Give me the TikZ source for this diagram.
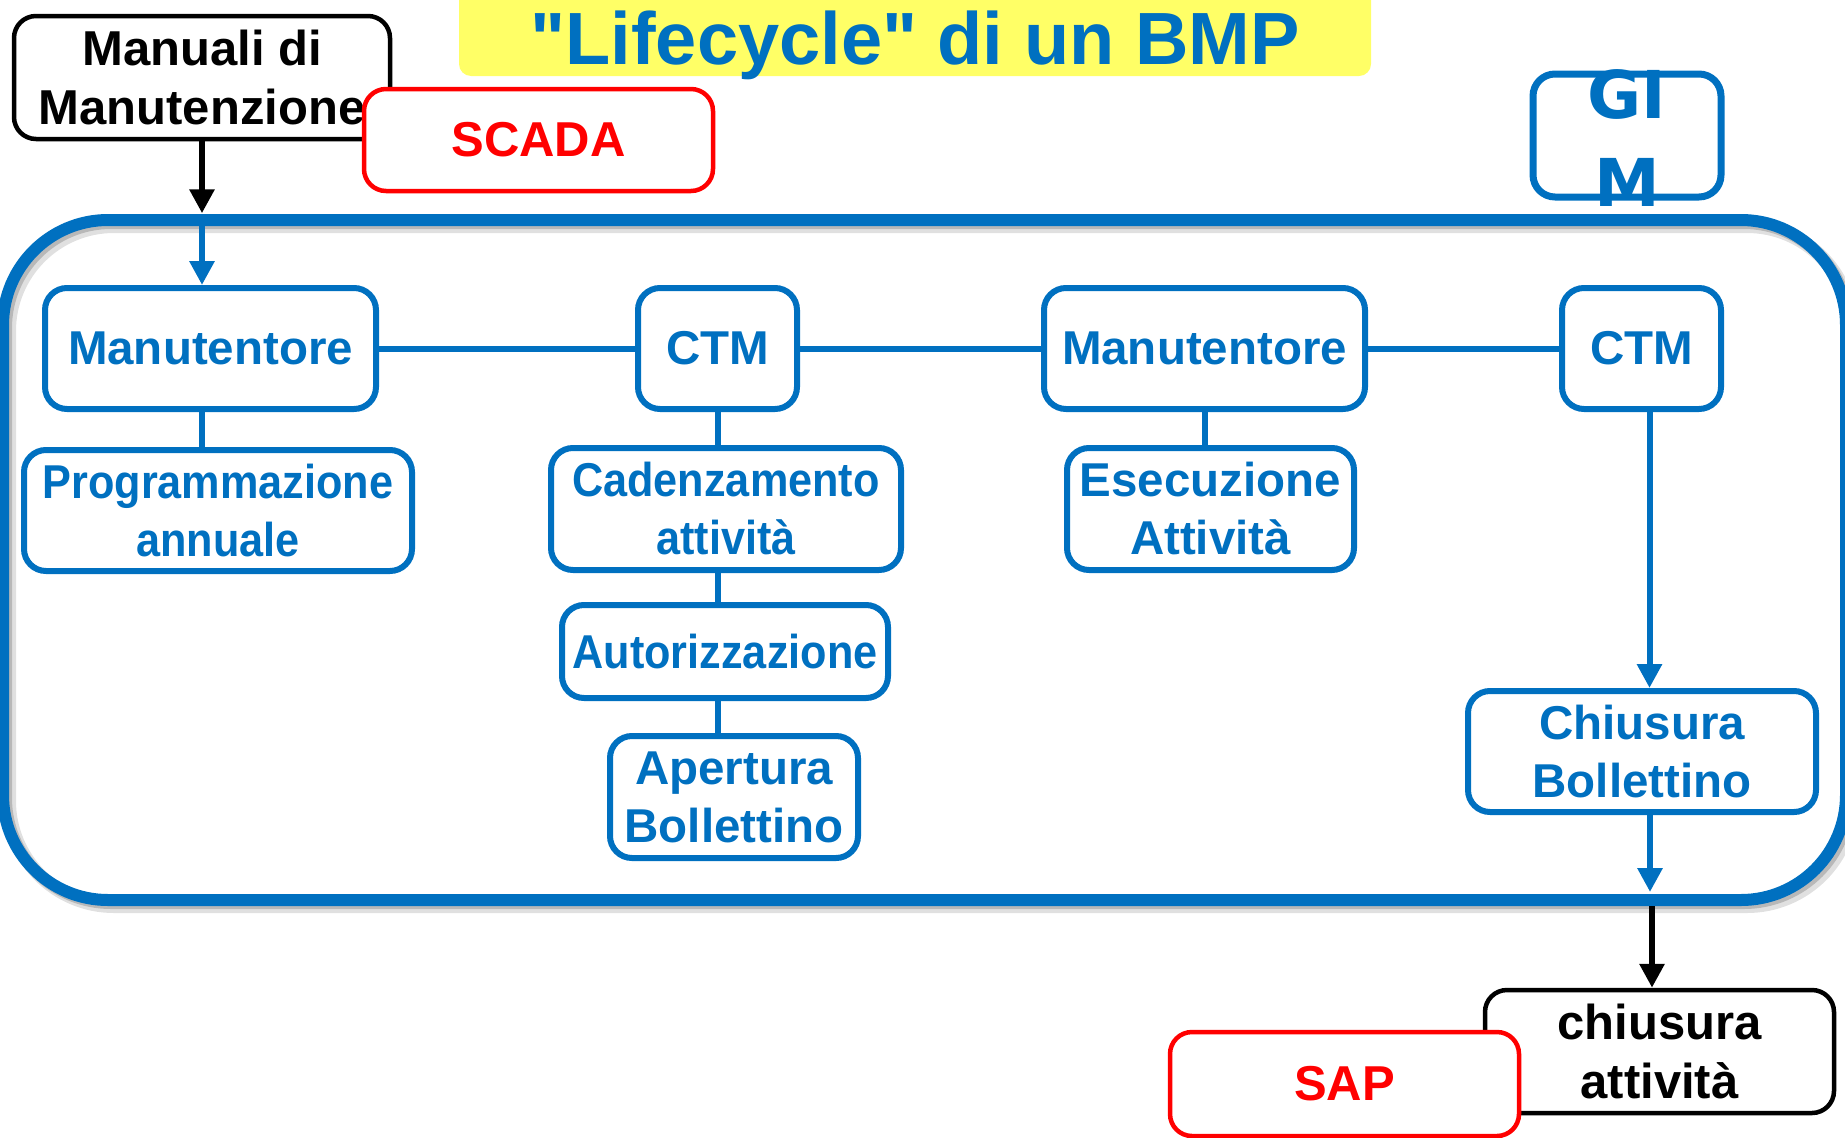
\documentclass[tikz,border=0pt]{standalone}
\usepackage{fontspec}
\setmainfont{Liberation Sans}
\newfontfamily\condfont[FakeStretch=0.91]{Liberation Sans}
\newfontfamily\titlefont[Ligatures=TeXOff]{Liberation Sans}
\newfontfamily\gimfont{DejaVu Sans}
\usetikzlibrary{arrows.meta}
\definecolor{pblue}{RGB}{0,112,192}
\definecolor{pyellow}{RGB}{255,255,102}
\definecolor{pred}{RGB}{255,0,0}
\tikzset{
  bluebox/.style={draw=pblue, line width=6pt, rounded corners=22pt, fill=white, text=pblue,
    font=\fontsize{47.5}{58}\selectfont\bfseries, align=center, inner sep=0pt},
  condbox/.style={bluebox, font=\fontsize{47.5}{58}\selectfont\condfont\bfseries},
  blackbox/.style={draw=black, line width=4.5pt, rounded corners=22pt, fill=white, text=black,
    font=\fontsize{49}{59}\selectfont\bfseries, align=center, inner sep=0pt},
  redbox/.style={draw=pred, line width=4.5pt, rounded corners=22pt, fill=white, text=pred,
    font=\fontsize{49}{59}\selectfont\bfseries, align=center, inner sep=0pt},
  conn/.style={draw=pblue, line width=6pt},
  bluearrow/.style={draw=pblue, line width=6pt, -{Triangle[length=24pt,width=24pt]}},
  blackarrow/.style={draw=black, line width=6pt, -{Triangle[length=24pt,width=24pt]}},
}
\begin{document}
\begin{tikzpicture}[x=1pt,y=-1pt]
\useasboundingbox (0,0) rectangle (1845,1138);
% big container with shadow
\draw[line width=14pt, black, opacity=0.12, rounded corners=105pt] (9,226) rectangle (1852,906);
\draw[line width=12pt, black, opacity=0.18, rounded corners=105pt] (6,223) rectangle (1849,903);
\draw[line width=12pt, pblue, rounded corners=105pt] (3,220) rectangle (1846,900);

% title
\node[fill=pyellow, rounded corners=12pt, minimum width=912pt, minimum height=96pt, inner sep=0pt] (tbox) at (915,28) {};
\node[anchor=base, text=pblue, font=\fontsize{74}{80}\selectfont\titlefont\bfseries, inner sep=0pt] (title) at (915,64) {"Lifecycle" di un BMP};

% GIM
\node[draw=pblue, line width=7pt, rounded corners=22pt, minimum width=188pt, minimum height=123pt, inner sep=0pt] (gim) at (1627,135.5) {};
\node[anchor=base, text=pblue, font=\fontsize{66}{80}\selectfont\gimfont\bfseries, inner sep=0pt] (gi) at (1627,118) {GI};
\node[anchor=base, text=pblue, font=\fontsize{66}{80}\selectfont\gimfont\bfseries, inner sep=0pt] (gm) at (1627,206) {M};

% external boxes
\node[blackbox, minimum width=376pt, minimum height=123pt] (man) at (202,77.5) {Manuali di\\Manutenzione};
\node[redbox, minimum width=349pt, minimum height=102pt] (scada) at (538.5,140) {SCADA};

% row
\node[bluebox, minimum width=331pt, minimum height=121pt] (m1) at (210.5,348.5) {Manutentore};
\node[bluebox, minimum width=159pt, minimum height=121pt] (c1) at (717.5,348.5) {CTM};
\node[bluebox, minimum width=321pt, minimum height=121pt] (m2) at (1204.5,348.5) {Manutentore};
\node[bluebox, minimum width=159pt, minimum height=121pt] (c2) at (1641.5,348.5) {CTM};

\node[condbox, minimum width=388pt, minimum height=121pt] (prog) at (218,510.5) {Programmazione\\annuale};
\node[condbox, minimum width=350pt, minimum height=122pt] (cad) at (726,509) {Cadenzamento\\attivit\`a};
\node[condbox, minimum width=326pt, minimum height=93pt] (aut) at (725,651.5) {Autorizzazione};
\node[bluebox, minimum width=248pt, minimum height=122pt] (ape) at (734,797) {Apertura\\Bollettino};
\node[bluebox, minimum width=287pt, minimum height=122pt] (ese) at (1210.5,509) {Esecuzione\\Attivit\`a};
\node[bluebox, minimum width=348pt, minimum height=121pt] (cb) at (1642,751.5) {Chiusura\\Bollettino};

% outputs
\node[blackbox, minimum width=349pt, minimum height=123pt] (ca) at (1659.5,1051.5) {chiusura\\attivit\`a};
\node[redbox, minimum width=349pt, minimum height=104pt] (sap) at (1344.5,1084) {SAP};

% connectors
\draw[conn] (m1) -- (c1);
\draw[conn] (c1) -- (m2);
\draw[conn] (m2) -- (c2);
\draw[conn] (m1.south -| man.south) -- (prog.north -| man.south);
\draw[conn] (c1.south) -- (c1.south |- cad.north);
\draw[conn] (c1.south |- cad.south) -- (c1.south |- aut.north);
\draw[conn] (c1.south |- aut.south) -- (c1.south |- ape.north);
\draw[conn] (m2.south) -- (m2.south |- ese.north);

\path (man.south) ++(0,72) coordinate (mj);
\draw[blackarrow] (man.south) -- (mj);
\draw[bluearrow] ([yshift=-4pt]mj) -- (mj |- m1.north);

\path (c2.south) ++(8,0) coordinate (c2s);
\draw[bluearrow] (c2s) -- (c2s |- cb.north);
\path (cb.south) ++(8,0) coordinate (cbs);
\coordinate (bj) at (1650,892);
\coordinate (bk) at (1652,906);
\draw[bluearrow] (cbs) -- (cbs |- bj);
\draw[blackarrow] (bk) -- (bk |- ca.north);
\end{tikzpicture}
\end{document}
